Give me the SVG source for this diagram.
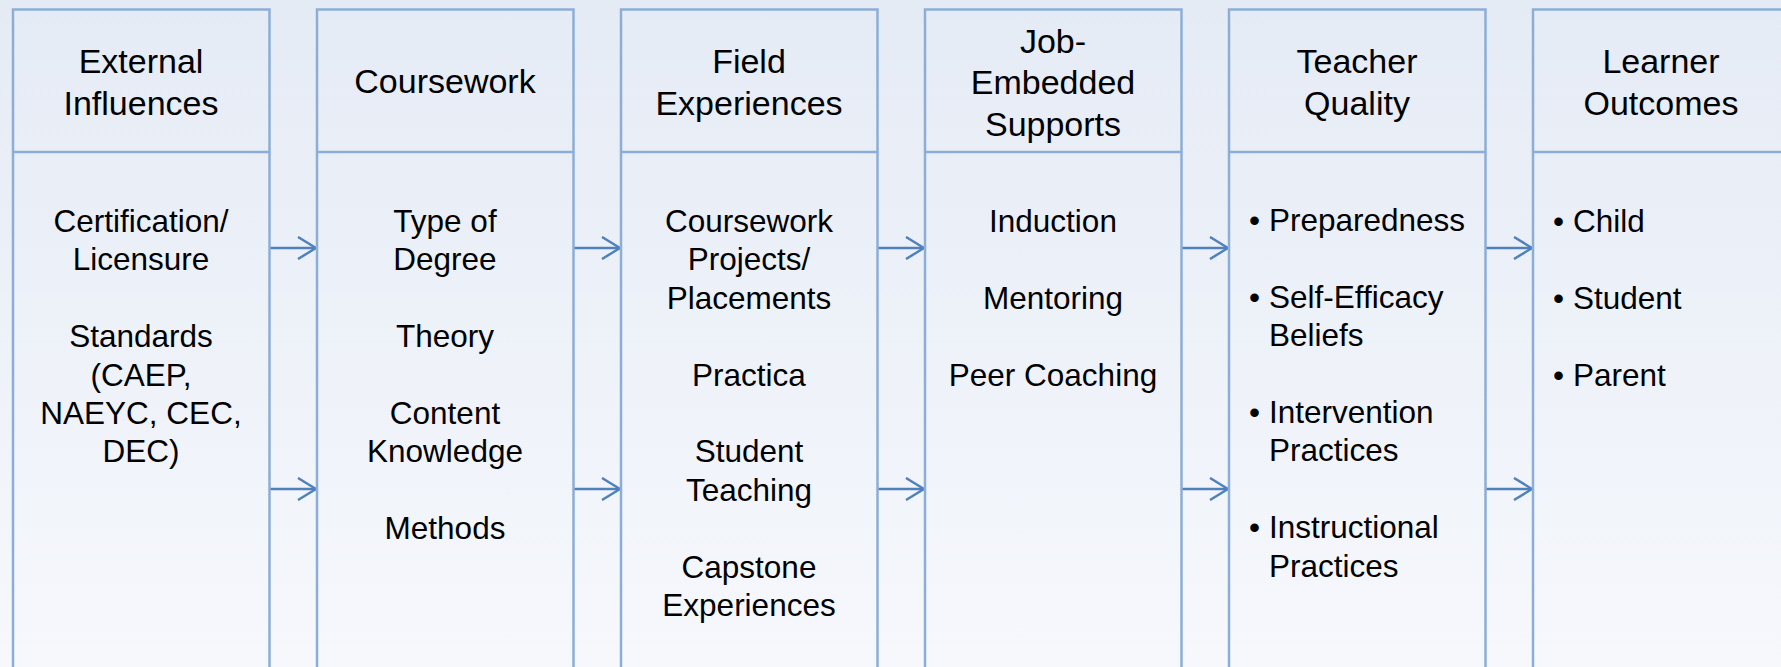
<svg xmlns="http://www.w3.org/2000/svg" width="1781" height="667" viewBox="0 0 1781 667">
<defs>
<linearGradient id="bg" x1="0" y1="0" x2="0" y2="1">
<stop offset="0" stop-color="#e5ebf5"/>
<stop offset="1" stop-color="#f6f8fc"/>
</linearGradient>
<marker id="arr" viewBox="0 0 20 24" refX="19" refY="12" markerWidth="20" markerHeight="24" markerUnits="userSpaceOnUse" orient="auto">
<path d="M1,1 L19,12 L1,23" fill="none" stroke="#4f81bd" stroke-width="2.5"/>
</marker>
<style>
.box{fill:none;stroke:#8caed6;stroke-width:2.5}
.hd{font-family:"Liberation Sans",Arial,sans-serif;font-size:34px;fill:#000;text-anchor:middle}
.bd{font-family:"Liberation Sans",Arial,sans-serif;font-size:31.5px;fill:#000;text-anchor:middle}
.bl{font-family:"Liberation Sans",Arial,sans-serif;font-size:31.5px;fill:#000}
.con{stroke:#4f81bd;stroke-width:2.5;fill:none;marker-end:url(#arr)}
</style>
</defs>
<rect x="0" y="0" width="1781" height="667" fill="url(#bg)"/>

<g id="connectors">
<line class="con" x1="269.5" y1="248" x2="316" y2="248"/>
<line class="con" x1="269.5" y1="489" x2="316" y2="489"/>
<line class="con" x1="573.5" y1="248" x2="620" y2="248"/>
<line class="con" x1="573.5" y1="489" x2="620" y2="489"/>
<line class="con" x1="877.5" y1="248" x2="924" y2="248"/>
<line class="con" x1="877.5" y1="489" x2="924" y2="489"/>
<line class="con" x1="1181.5" y1="248" x2="1228" y2="248"/>
<line class="con" x1="1181.5" y1="489" x2="1228" y2="489"/>
<line class="con" x1="1485.5" y1="248" x2="1532" y2="248"/>
<line class="con" x1="1485.5" y1="489" x2="1532" y2="489"/>
</g>

<g id="external-influences">
<path class="box" d="M13,680 V9.5 H269.5 V680 M13,152 H269.5"/>
<text class="hd" x="141" y="72.5">External</text>
<text class="hd" x="141" y="114.5">Influences</text>
<text class="bd" x="141" y="232">Certification/</text>
<text class="bd" x="141" y="270.4">Licensure</text>
<text class="bd" x="141" y="347.2">Standards</text>
<text class="bd" x="141" y="385.6">(CAEP,</text>
<text class="bd" x="141" y="424">NAEYC, CEC,</text>
<text class="bd" x="141" y="462.4">DEC)</text>
</g>

<g id="coursework">
<path class="box" d="M317,680 V9.5 H573.5 V680 M317,152 H573.5"/>
<text class="hd" x="445" y="93">Coursework</text>
<text class="bd" x="445" y="232">Type of</text>
<text class="bd" x="445" y="270.4">Degree</text>
<text class="bd" x="445" y="347.2">Theory</text>
<text class="bd" x="445" y="424">Content</text>
<text class="bd" x="445" y="462.4">Knowledge</text>
<text class="bd" x="445" y="539.2">Methods</text>
</g>

<g id="field-experiences">
<path class="box" d="M621,680 V9.5 H877.5 V680 M621,152 H877.5"/>
<text class="hd" x="749" y="72.5">Field</text>
<text class="hd" x="749" y="114.5">Experiences</text>
<text class="bd" x="749" y="232">Coursework</text>
<text class="bd" x="749" y="270.4">Projects/</text>
<text class="bd" x="749" y="308.8">Placements</text>
<text class="bd" x="749" y="385.6">Practica</text>
<text class="bd" x="749" y="462.4">Student</text>
<text class="bd" x="749" y="500.8">Teaching</text>
<text class="bd" x="749" y="577.6">Capstone</text>
<text class="bd" x="749" y="616">Experiences</text>
</g>

<g id="job-embedded-supports">
<path class="box" d="M925,680 V9.5 H1181.5 V680 M925,152 H1181.5"/>
<text class="hd" x="1053" y="52.5">Job-</text>
<text class="hd" x="1053" y="94">Embedded</text>
<text class="hd" x="1053" y="135.5">Supports</text>
<text class="bd" x="1053" y="232">Induction</text>
<text class="bd" x="1053" y="308.8">Mentoring</text>
<text class="bd" x="1053" y="385.6">Peer Coaching</text>
</g>

<g id="teacher-quality">
<path class="box" d="M1229,680 V9.5 H1485.5 V680 M1229,152 H1485.5"/>
<text class="hd" x="1357" y="72.5">Teacher</text>
<text class="hd" x="1357" y="114.5">Quality</text>
<text class="bl" x="1249" y="231">•</text>
<text class="bl" x="1269" y="231">Preparedness</text>
<text class="bl" x="1249" y="307.8">•</text>
<text class="bl" x="1269" y="307.8">Self-Efficacy</text>
<text class="bl" x="1269" y="346.2">Beliefs</text>
<text class="bl" x="1249" y="423">•</text>
<text class="bl" x="1269" y="423">Intervention</text>
<text class="bl" x="1269" y="461.4">Practices</text>
<text class="bl" x="1249" y="538.2">•</text>
<text class="bl" x="1269" y="538.2">Instructional</text>
<text class="bl" x="1269" y="576.6">Practices</text>
</g>

<g id="learner-outcomes">
<path class="box" d="M1533,680 V9.5 H1800 M1533,152 H1800"/>
<text class="hd" x="1661" y="72.5">Learner</text>
<text class="hd" x="1661" y="114.5">Outcomes</text>
<text class="bl" x="1553" y="232">•</text>
<text class="bl" x="1573" y="232">Child</text>
<text class="bl" x="1553" y="308.8">•</text>
<text class="bl" x="1573" y="308.8">Student</text>
<text class="bl" x="1553" y="385.6">•</text>
<text class="bl" x="1573" y="385.6">Parent</text>
</g>
</svg>
